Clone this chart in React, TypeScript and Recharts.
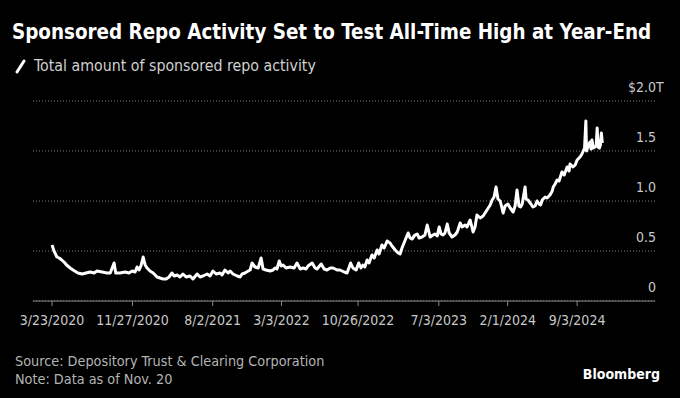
import React from "react";
import { LineChart, Line, XAxis, YAxis, CartesianGrid } from "recharts";

const dates = [
  "2020-03-23","2020-03-29","2020-04-07","2020-04-14","2020-04-22","2020-04-29","2020-05-07","2020-05-18","2020-05-27","2020-06-11",
  "2020-06-24","2020-07-06","2020-07-19","2020-07-31","2020-08-09","2020-08-25","2020-09-09","2020-09-19","2020-10-01","2020-10-06",
  "2020-10-19","2020-11-04","2020-11-16","2020-11-26","2020-12-05","2020-12-11","2020-12-17","2020-12-23","2020-12-30","2021-01-05",
  "2021-01-11","2021-01-20","2021-01-30","2021-02-11","2021-02-20","2021-03-02","2021-03-11","2021-03-20","2021-03-29","2021-04-05",
  "2021-04-14","2021-04-23","2021-05-02","2021-05-12","2021-05-24","2021-06-02","2021-06-15","2021-06-24","2021-07-03","2021-07-16",
  "2021-07-25","2021-08-03","2021-08-13","2021-08-25","2021-08-31","2021-09-09","2021-09-19","2021-09-25","2021-10-04","2021-10-17",
  "2021-10-26","2021-11-01","2021-11-10","2021-11-20","2021-11-26","2021-12-02","2021-12-11","2021-12-21","2021-12-30","2022-01-05",
  "2022-01-14","2022-01-27","2022-02-05","2022-02-11","2022-02-17","2022-02-24","2022-03-02","2022-03-08","2022-03-17","2022-03-30",
  "2022-04-11","2022-04-20","2022-04-30","2022-05-09","2022-05-18","2022-05-24","2022-06-06","2022-06-15","2022-06-21","2022-07-04",
  "2022-07-13","2022-07-22","2022-08-01","2022-08-10","2022-08-22","2022-08-31","2022-09-13","2022-09-22","2022-10-03","2022-10-10",
  "2022-10-20","2022-10-28","2022-11-04","2022-11-10","2022-11-16","2022-11-23","2022-11-29","2022-12-08","2022-12-15","2022-12-24",
  "2022-12-30","2023-01-08","2023-01-15","2023-01-24","2023-02-02","2023-02-08","2023-02-18","2023-02-27","2023-03-05","2023-03-11",
  "2023-03-21","2023-03-30","2023-04-05","2023-04-11","2023-04-20","2023-04-27","2023-05-03","2023-05-12","2023-05-21","2023-05-28",
  "2023-06-06","2023-06-15","2023-06-21","2023-06-28","2023-07-04","2023-07-10","2023-07-16","2023-07-22","2023-07-29","2023-08-04",
  "2023-08-13","2023-08-22","2023-08-29","2023-09-07","2023-09-13","2023-09-22","2023-09-28","2023-10-08","2023-10-17","2023-10-23",
  "2023-10-29","2023-11-08","2023-11-17","2023-11-23","2023-11-29","2023-12-09","2023-12-15","2023-12-21","2023-12-27","2024-01-02",
  "2024-01-09","2024-01-15","2024-01-18","2024-01-24","2024-02-02","2024-02-09","2024-02-18","2024-02-24","2024-03-01","2024-03-07",
  "2024-03-12","2024-03-17","2024-03-26","2024-03-29","2024-04-04","2024-04-13","2024-04-19","2024-04-26","2024-05-02","2024-05-08",
  "2024-05-13","2024-05-18","2024-05-27","2024-06-02","2024-06-11","2024-06-18","2024-06-21","2024-06-27","2024-07-03","2024-07-09",
  "2024-07-18","2024-07-25","2024-08-03","2024-08-09","2024-08-12","2024-08-21","2024-08-28","2024-09-03","2024-09-12","2024-09-18",
  "2024-09-26","2024-09-30","2024-10-02","2024-10-07","2024-10-13","2024-10-16","2024-10-19","2024-10-23","2024-10-28","2024-11-01",
  "2024-11-04","2024-11-07","2024-11-11","2024-11-14","2024-11-17","2024-11-20",
];

const values = [
  0.56,0.50,0.44,0.43,0.41,0.39,0.36,0.33,0.31,0.28,
  0.27,0.28,0.29,0.28,0.30,0.29,0.28,0.28,0.38,0.28,
  0.28,0.29,0.28,0.30,0.29,0.34,0.31,0.35,0.44,0.36,
  0.33,0.30,0.28,0.24,0.23,0.22,0.22,0.24,0.28,0.25,
  0.26,0.24,0.27,0.24,0.25,0.22,0.27,0.24,0.25,0.27,
  0.25,0.30,0.27,0.28,0.26,0.31,0.28,0.30,0.27,0.25,
  0.24,0.27,0.28,0.30,0.31,0.38,0.34,0.33,0.43,0.32,
  0.31,0.30,0.31,0.33,0.32,0.40,0.35,0.36,0.33,0.34,
  0.33,0.38,0.32,0.33,0.32,0.35,0.38,0.33,0.32,0.37,
  0.32,0.31,0.33,0.33,0.31,0.31,0.29,0.28,0.38,0.33,
  0.31,0.38,0.33,0.36,0.34,0.41,0.38,0.46,0.43,0.51,
  0.47,0.56,0.53,0.60,0.58,0.55,0.51,0.48,0.47,0.53,
  0.61,0.68,0.63,0.62,0.66,0.67,0.63,0.64,0.66,0.76,
  0.64,0.66,0.67,0.65,0.74,0.67,0.66,0.68,0.77,0.68,
  0.64,0.66,0.69,0.78,0.74,0.76,0.74,0.81,0.69,0.74,
  0.86,0.83,0.85,0.88,0.91,0.96,1.01,1.04,1.14,1.02,
  1.00,0.92,0.88,0.95,0.97,0.93,0.89,0.95,1.11,0.95,
  0.94,0.97,1.14,1.02,1.01,0.97,0.94,0.95,1.00,0.97,
  0.96,1.01,1.04,1.03,1.06,1.10,1.14,1.17,1.21,1.20,
  1.29,1.26,1.34,1.30,1.37,1.34,1.36,1.41,1.44,1.47,
  1.53,1.80,1.50,1.55,1.59,1.52,1.61,1.53,1.54,1.55,
  1.73,1.54,1.53,1.56,1.68,1.58,
];

const xTickDates = ["2020-03-23","2020-11-27","2021-08-02","2022-03-03","2022-10-26","2023-07-03","2024-02-01","2024-09-03"];
const xDomainDates = ["2020-01-24","2025-05-02"];
const yTicks = [0, 0.5, 1.0, 1.5, 2.0];
const yTickLabels = ["0", "0.5", "1.0", "1.5", "$2.0"];
const yUnitSuffix = "T";

const toTs = (d: string) => Date.parse(d + "T00:00:00Z");
const data = dates.map((d, i) => ({ t: toTs(d), v: values[i] }));

const fmtDate = (ts: number) => {
  const d = new Date(ts);
  return `${d.getUTCMonth() + 1}/${d.getUTCDate()}/${d.getUTCFullYear()}`;
};

const FONT = "'DejaVu Sans Condensed', 'DejaVu Sans', sans-serif";

const YTick = (props: any) => {
  const { x, y, payload } = props;
  const idx = yTicks.indexOf(payload.value);
  const isTop = idx === yTicks.length - 1;
  return (
    <g>
      <text x={x} y={y - 9} textAnchor="end" fill="#c8c8c8" fontSize={14} fontFamily={FONT}>
        {idx >= 0 ? yTickLabels[idx] : String(payload.value)}
      </text>
      {isTop && (
        <text x={x} y={y - 9} textAnchor="start" fill="#c8c8c8" fontSize={14} fontFamily={FONT}>
          {yUnitSuffix}
        </text>
      )}
    </g>
  );
};

export default function App() {
  return (
    <div style={{ position: "absolute", left: 0, top: 0, width: 680, height: 398, background: "#000", overflow: "hidden", fontFamily: FONT }}>
      <div style={{ position: "absolute", left: 12, top: 20, color: "#fff", fontSize: 20.4, fontWeight: "bold", whiteSpace: "nowrap" }}>
        Sponsored Repo Activity Set to Test All-Time High at Year-End
      </div>
      <svg style={{ position: "absolute", left: 14, top: 58 }} width={14} height={16}>
        <line x1={3} y1={14} x2={10} y2={3} stroke="#fff" strokeWidth={3} strokeLinecap="round" />
      </svg>
      <div style={{ position: "absolute", left: 34, top: 56, color: "#d0d0d0", fontSize: 15.8, whiteSpace: "nowrap" }}>
        Total amount of sponsored repo activity
      </div>
      <div style={{ position: "absolute", left: 0, top: 0 }}>
        <LineChart width={680} height={340} data={data} margin={{ top: 101, right: 0, bottom: 9, left: 33 }}>
          <CartesianGrid horizontal vertical={false} stroke="#7a7a7a" strokeDasharray="1 2" />
          <XAxis
            dataKey="t"
            type="number"
            domain={xDomainDates.map(toTs)}
            allowDataOverflow
            ticks={xTickDates.map(toTs)}
            tickFormatter={fmtDate}
            stroke="#888"
            tickSize={5}
            tickMargin={9}
            height={30}
            tick={{ fill: "#c8c8c8", fontSize: 14, fontFamily: FONT }}
            interval={0}
          />
          <YAxis
            orientation="right"
            domain={[0, 2]}
            ticks={yTicks}
            width={25}
            axisLine={false}
            tickLine={false}
            tickSize={0}
            tickMargin={1}
            tick={YTick}
            interval={0}
          />
          <Line type="linear" dataKey="v" stroke="#fff" strokeWidth={3} dot={false} isAnimationActive={false} strokeLinejoin="round" />
        </LineChart>
      </div>
      <div style={{ position: "absolute", left: 15, top: 352, color: "#b4b4b4", fontSize: 14.3, lineHeight: "18px", whiteSpace: "nowrap" }}>
        <div>Source: Depository Trust &amp; Clearing Corporation</div>
        <div>Note: Data as of Nov. 20</div>
      </div>
      <div style={{ position: "absolute", right: 20, top: 366, color: "#fff", fontSize: 14, fontWeight: "bold" }}>
        Bloomberg
      </div>
    </div>
  );
}
